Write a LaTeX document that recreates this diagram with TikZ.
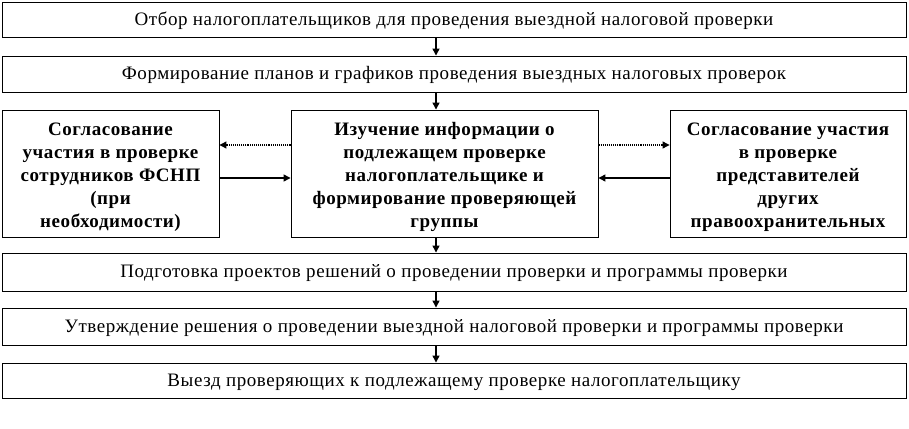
\documentclass[tikz,border=0pt]{standalone}
\usepackage{fontspec}
\setmainfont{Liberation Serif}[LetterSpace=3]
\usetikzlibrary{arrows.meta}
\newcommand{\firststrut}{\rule{0pt}{21pt}}
\begin{document}
\begin{tikzpicture}[x=1pt,y=-1pt,
  box/.style={draw=black, line width=0.9pt, inner sep=0pt, align=center, font=\fontsize{19}{23}\selectfont},
  sidebox/.style={box, font=\bfseries\fontsize{19}{23}\selectfont},
  arr/.style={-{Triangle[length=7pt,width=7pt]}, line width=1.3pt},
  darr/.style={-{Triangle[length=7pt,width=7pt]}, line width=1.1pt, densely dotted}]
\useasboundingbox (0,0) rectangle (909,428);
\node[box, minimum width=904pt, minimum height=35pt] (b1) at (454,19.5) {\rule{0pt}{16pt}Отбор налогоплательщиков для проведения выездной налоговой проверки};
\node[box, minimum width=904pt, minimum height=36pt] (b2) at (454,74) {\rule{0pt}{16pt}Формирование планов и графиков проведения выездных налоговых проверок};
\node[sidebox, minimum width=217pt, minimum height=127pt] (L) at (110.5,173.5) {\firststrut Согласование\\участия в проверке\\сотрудников ФСНП\\(при\\необходимости)};
\node[sidebox, minimum width=307pt, minimum height=127pt] (M) at (444.5,173.5) {\firststrut Изучение информации о\\подлежащем проверке\\налогоплательщике и\\формирование проверяющей\\группы};
\node[sidebox, minimum width=236pt, minimum height=127pt] (R) at (788,173.5) {\firststrut Согласование участия\\в проверке\\представителей\\других\\правоохранительных};
\node[box, minimum width=904pt, minimum height=38pt] (b4) at (454,272) {\rule{0pt}{16pt}Подготовка проектов решений о проведении проверки и программы проверки};
\node[box, minimum width=904pt, minimum height=37pt] (b5) at (454,326.5) {\rule{0pt}{16pt}Утверждение решения о проведении выездной налоговой проверки и программы проверки};
\node[box, minimum width=904pt, minimum height=35pt] (b6) at (454,380.5) {\rule{0pt}{16pt}Выезд проверяющих к подлежащему проверке налогоплательщику};
\coordinate (ax) at (436,0);
\coordinate (ya) at (0,145);
\coordinate (yb) at (0,178);
\draw[arr] (b1.south -| ax) -- (b2.north -| ax);
\draw[arr] (b2.south -| ax) -- (M.north -| ax);
\draw[arr] (M.south -| ax) -- (b4.north -| ax);
\draw[arr] (b4.south -| ax) -- (b5.north -| ax);
\draw[arr] (b5.south -| ax) -- (b6.north -| ax);
\draw[darr] (M.west |- ya) -- (L.east |- ya);
\draw[arr] (L.east |- yb) -- (M.west |- yb);
\draw[darr] (M.east |- ya) -- (R.west |- ya);
\draw[arr] (R.west |- yb) -- (M.east |- yb);
\end{tikzpicture}
\end{document}
